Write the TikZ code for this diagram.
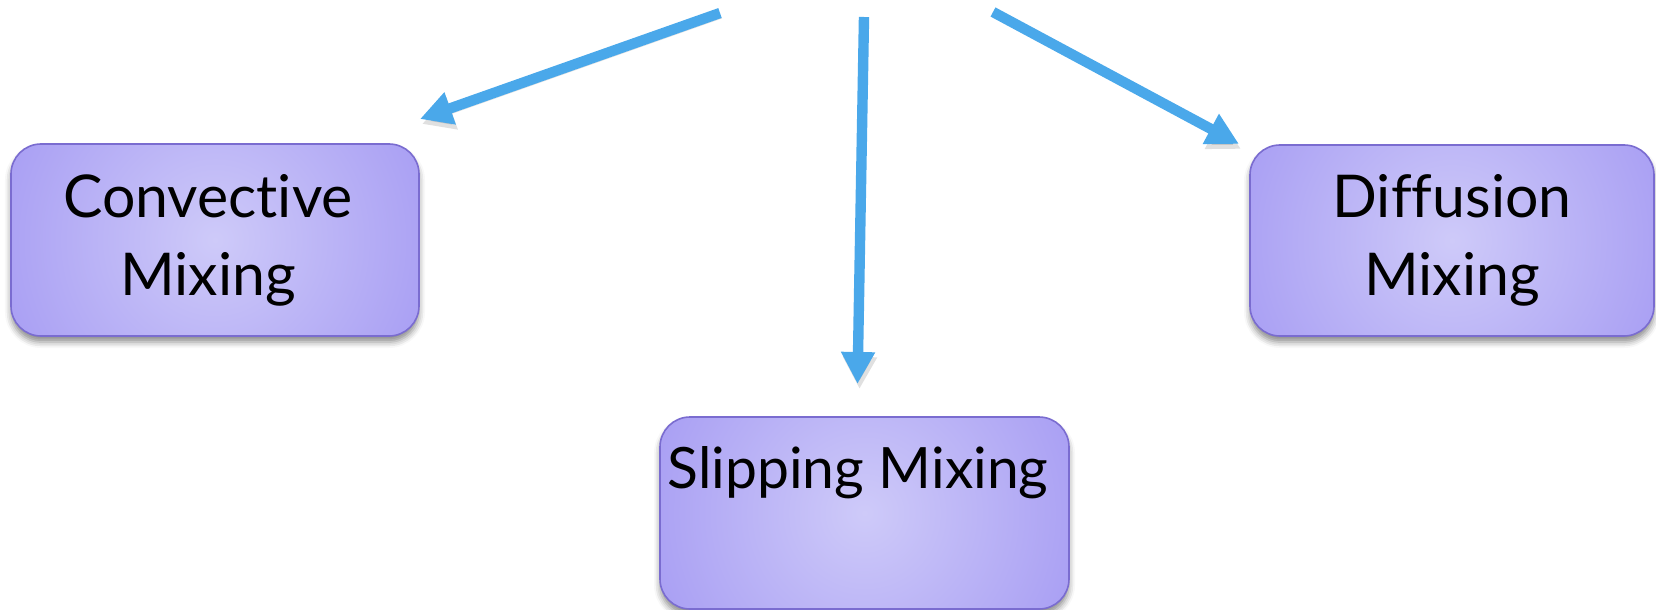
\documentclass[tikz,border=0pt]{standalone}
\usepackage{fontspec}
\setmainfont{Lato}[Ligatures=NoCommon]
\usetikzlibrary{shadows,shadows.blur,arrows.meta}
\definecolor{arrowblue}{HTML}{4AA8EA}
\definecolor{boxin}{HTML}{CECAF9}
\definecolor{boxout}{HTML}{A89EF3}
\definecolor{boxline}{HTML}{7A6CD0}
\begin{document}
\begin{tikzpicture}[x=0.5pt,y=-0.5pt,
  mixbox/.style={rounded corners=15pt, draw=boxline, line width=0.8pt,
    fill=boxout,
    path picture={\shade[inner color=boxin, outer color=boxout]
      ([shift={(-230,-230)}]path picture bounding box.center) rectangle
      ([shift={(230,230)}]path picture bounding box.center);},
    inner sep=0pt, align=center,
    font=\fontsize{29.5}{39}\selectfont,
    blur shadow={shadow xshift=0pt, shadow yshift=-3pt, shadow blur radius=3pt, shadow opacity=45}},
  flow/.style={draw=arrowblue, line width=5.2pt, -{Triangle[length=16pt,width=16pt]},
    preaction={draw=black, opacity=0.12, transform canvas={shift={(1pt,-2.5pt)}}}}]
\useasboundingbox (0,0) rectangle (1656,610);
\node[mixbox, minimum width=204pt, minimum height=96pt] (conv) at (215,240) {Convective\hspace*{7pt}\\Mixing\hspace*{7pt}};
\node[mixbox, minimum width=202pt, minimum height=95.5pt] (diff) at (1452,240.5) {Diffusion\\Mixing};
\node[mixbox, minimum width=204.5pt, minimum height=96pt, text height=35.5pt, text depth=60.5pt, font=\fontsize{28.5}{39}\selectfont] (slip) at (864.5,513) {Slipping Mixing\hspace*{6.5pt}};
\coordinate (s1) at (720,13);
\coordinate (t1) at (420,119);
\coordinate (s2) at (864,17);
\coordinate (t2) at (857.5,384);
\coordinate (s3) at (993,12);
\coordinate (t3) at (1239,144);
\draw[flow] (s1) -- (t1);
\draw[flow] (s2) -- (t2);
\draw[flow] (s3) -- (t3);
\end{tikzpicture}
\end{document}
